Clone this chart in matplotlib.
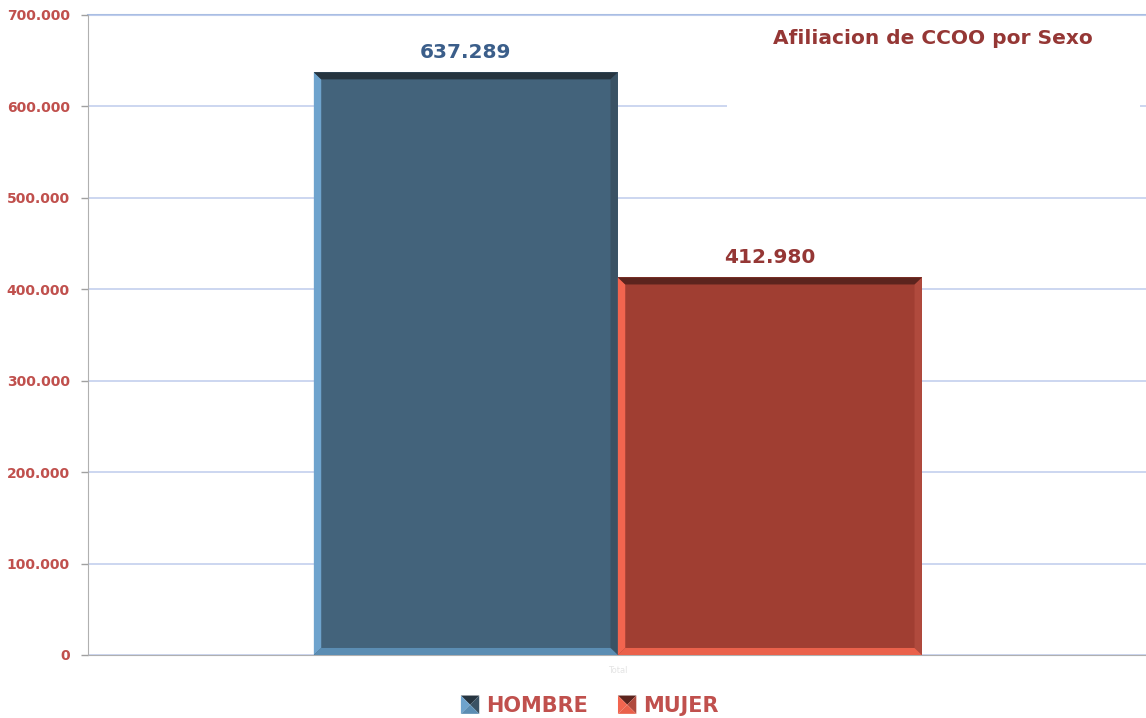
import matplotlib.pyplot as plt
from matplotlib.patches import Polygon, Patch
from matplotlib.legend_handler import HandlerBase
from matplotlib.ticker import FuncFormatter

plt.rcParams['font.family'] = ['DejaVu Sans']

# datos
categoria = ['Total']
series = ['HOMBRE', 'MUJER']
valores = [637289, 412980]
etiquetas = ['637.289', '412.980']

# colores: cara, izquierda, arriba, derecha, abajo
colores = [
    ['#43637B', '#6EA3CD', '#26343F', '#3A5264', '#5B8DB3'],
    ['#A03E32', '#F2654F', '#5C241E', '#B04A3D', '#EA614B'],
]
color_etiqueta = ['#3B5E8A', '#953735']


class Bisel(HandlerBase):
    # cuadradito con cuatro triangulos, como en la leyenda original
    def create_artists(self, legend, orig, x0, y0, w, h, fontsize, trans):
        c = orig.colores
        s = min(w, h) * 1.15
        cx, cy = x0 + w / 2, y0 + h / 2 - 1
        a, b = cx - s / 2, cx + s / 2
        d, u = cy - s / 2, cy + s / 2
        tri = [
            ([(a, u), (b, u), (cx, cy)], c[2]),
            ([(a, d), (a, u), (cx, cy)], c[1]),
            ([(b, d), (b, u), (cx, cy)], c[3]),
            ([(a, d), (b, d), (cx, cy)], c[4]),
        ]
        return [Polygon(p, closed=True, fc=col, ec='none', transform=trans) for p, col in tri]


fig = plt.figure(figsize=(11.46, 7.18), dpi=100)
ax = fig.add_axes([88 / 1146, 63 / 718, 1 - 88 / 1146, 640 / 718])

ancho = 0.35
desp = [-ancho / 2, ancho / 2]
ax.set_xlim(-0.61, 0.608)
ax.set_ylim(0, 700000)

bx = 0.0085   # grosor del bisel en x
by = 7700     # grosor del bisel en y

for i in range(len(series)):
    barras = ax.bar(0 + desp[i], valores[i], ancho, color=colores[i][0], zorder=3)
    for b in barras:
        x0 = b.get_x()
        x1 = x0 + b.get_width()
        h = b.get_height()
        c = colores[i]
        ax.fill([x0, x0 + bx, x0 + bx, x0], [0, by, h - by, h], color=c[1], zorder=4, lw=0)
        ax.fill([x1, x1 - bx, x1 - bx, x1], [0, by, h - by, h], color=c[3], zorder=4, lw=0)
        ax.fill([x0, x1, x1 - bx, x0 + bx], [h, h, h - by, h - by], color=c[2], zorder=4, lw=0)
        ax.fill([x0, x1, x1 - bx, x0 + bx], [0, 0, by, by], color=c[4], zorder=4, lw=0)
        ax.text(b.get_x() + b.get_width() / 2, h + 11500, etiquetas[i],
                ha='center', va='bottom', fontsize=14.5, fontweight='bold',
                color=color_etiqueta[i], zorder=5)

ax.set_yticks(range(0, 700001, 100000))
ax.yaxis.set_major_formatter(FuncFormatter(lambda v, p: f'{int(v):,}'.replace(',', '.')))
ax.tick_params(axis='y', colors='#A0A0A0', labelcolor='#C0504D', labelsize=10,
               length=5, width=1, pad=8)
for t in ax.get_yticklabels():
    t.set_fontweight('bold')

ax.set_xticks([0])
ax.set_xticklabels(categoria, fontsize=6, color='#E4E4E4')
ax.tick_params(axis='x', length=0, pad=8)

ax.grid(axis='y', color='#C3CFEE', lw=1.2, zorder=0)
ax.axhline(700000, color='#A9BEE3', lw=1.5, clip_on=False, zorder=1)
ax.spines['top'].set_visible(False)
ax.spines['right'].set_visible(False)
ax.spines['left'].set_color('#B0B0B0')
ax.spines['bottom'].set_color('#B0B0B0')

# caja blanca del titulo que tapa la rejilla
ax.add_patch(plt.Rectangle((727 / 1146, 1 - 112 / 718), (1140 - 727) / 1146, 92 / 718,
                           transform=fig.transFigure, fc='white', ec='none', zorder=2))
fig.text(933 / 1146, 1 - 38 / 718, 'Afiliacion de CCOO por Sexo', ha='center', va='center',
         fontsize=14.5, fontweight='bold', color='#953735', zorder=10)

manijas = []
for i in range(2):
    p = Patch()
    p.colores = colores[i]
    manijas.append(p)
fig.legend(manijas, series, loc='center', bbox_to_anchor=(590 / 1146, 1 - 706 / 718),
           ncol=2, frameon=False, prop={'size': 15, 'weight': 'bold'},
           labelcolor='#C0504D', handlelength=0.8, handleheight=0.8,
           handletextpad=0.35, columnspacing=1.5,
           handler_map={Patch: Bisel()})

fig.savefig('out.png', dpi=100, facecolor='white')
